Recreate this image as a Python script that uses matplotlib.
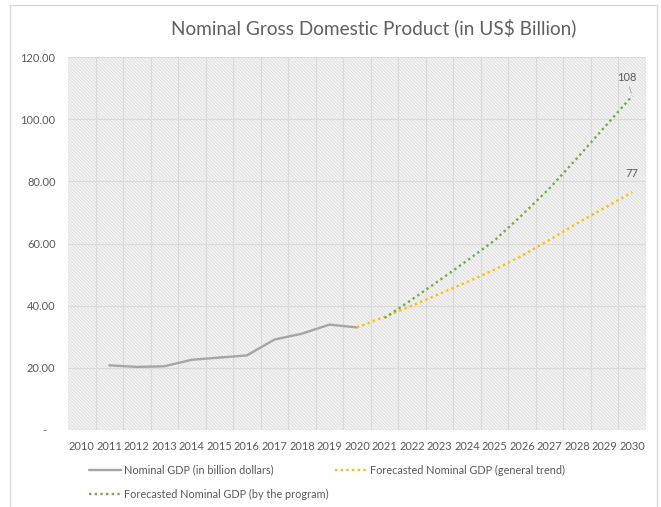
import numpy as np
import matplotlib
matplotlib.use('Agg')
import matplotlib.pyplot as plt
from matplotlib.patches import Rectangle

# data
years = [str(y) for y in range(2010, 2031)]
gdp_years = [2011, 2012, 2013, 2014, 2015, 2016, 2017, 2018, 2019, 2020]
gdp_values = [20.8, 20.3, 20.5, 22.6, 23.3, 24.0, 29.1, 31.0, 33.9, 33.0]
trend_years = [2020, 2021, 2022, 2023, 2024, 2025, 2026, 2027, 2028, 2029, 2030]
trend_values = [33.0, 36.4, 40.0, 43.8, 47.6, 51.6, 56.1, 61.2, 66.5, 71.5, 76.5]
prog_years = [2021, 2022, 2023, 2024, 2025, 2026, 2027, 2028, 2029, 2030]
prog_values = [36.0, 42.0, 48.2, 54.5, 61.0, 69.2, 77.8, 87.5, 97.5, 107.5]
y_ticks = [0, 20, 40, 60, 80, 100, 120]
y_labels = ['-   ', '20.00', '40.00', '60.00', '80.00', '100.00', '120.00']

plt.rcParams['font.family'] = ['Lato', 'DejaVu Sans']
plt.rcParams['hatch.linewidth'] = 0.7
plt.rcParams['hatch.color'] = '#e0e0e0'
txt = '#595959'

fig = plt.figure(figsize=(6.61, 5.07), dpi=100)
ax = fig.add_axes([68/661, 1-430/507, 578/661, 373/507])

def pos(ys):
    return [years.index(str(y)) for y in ys]

# plot area background with fine diagonal hatching
ax.add_patch(Rectangle((0, 0), 1, 1, transform=ax.transAxes, facecolor='#f5f5f5',
                       edgecolor='#e0e0e0', hatch='\\' * 10, lw=0, zorder=0))

ax.plot(pos(gdp_years), gdp_values, color='#a5a5a5', lw=1.7, solid_capstyle='round',
        label='Nominal GDP (in billion dollars)', zorder=3)
ax.plot(pos(trend_years), trend_values, color='#ffc000', lw=1.7, linestyle=(0, (1, 1.4)),
        label='Forecasted Nominal GDP (general trend)', zorder=3)
ax.plot(pos(prog_years), prog_values, color='#70ad47', lw=1.7, linestyle=(0, (1, 1.4)),
        label='Forecasted Nominal GDP (by the program)', zorder=4)

# data labels at the end points
ax.annotate('%d' % round(prog_values[-1] + 0.5), (pos(prog_years)[-1], prog_values[-1]),
            xytext=(-4.3, 9.5), textcoords='offset points', ha='center', va='bottom',
            fontsize=8, color=txt,
            arrowprops=dict(arrowstyle='-', color='#a5a5a5', lw=0.6, shrinkA=1, shrinkB=2))
ax.annotate('%d' % round(trend_values[-1] + 0.5), (pos(trend_years)[-1], trend_values[-1]),
            xytext=(0, 9.5), textcoords='offset points', ha='center', va='bottom',
            fontsize=8, color=txt)

ax.set_xlim(-0.5, len(years) - 0.5)
ax.set_ylim(0, 120)
ax.set_xticks(range(len(years)))
ax.set_xticklabels(years)
ax.set_xticks(np.arange(0.5, len(years) - 1, 1), minor=True)
ax.set_yticks(y_ticks)
ax.set_yticklabels(y_labels)
ax.grid(axis='y', which='major', color='#dadada', lw=0.8, zorder=1)
ax.grid(axis='x', which='minor', color='#dadada', lw=0.8, zorder=1)
ax.set_axisbelow(True)
ax.tick_params(axis='both', which='both', length=0, colors=txt, labelsize=8)
ax.tick_params(axis='y', pad=9)
ax.tick_params(axis='x', pad=8)
for s in ax.spines.values():
    s.set_visible(False)

fig.text(374/661, 1-28/507, 'Nominal Gross Domestic Product (in US$ Billion)',
         ha='center', va='center', fontsize=13.7, color='#606060')

# legend (first row two entries, second row one entry)
h = ax.get_legend_handles_labels()
leg_kw = dict(frameon=False, fontsize=7.8, labelcolor=txt, handlelength=2.95,
              handletextpad=0.3, borderaxespad=0, borderpad=0)
fig.legend([h[0][0], h[0][1]], [h[1][0], h[1][1]], ncol=2, columnspacing=5.6,
           loc='center left', bbox_to_anchor=(89/661, 1-470/507), **leg_kw)
fig.legend([h[0][2]], [h[1][2]], loc='center left',
           bbox_to_anchor=(89/661, 1-494/507), **leg_kw)

# chart area border
fig.patches.append(Rectangle((10/661, -0.02), 647/661, 1.02-5/507, transform=fig.transFigure,
                             fill=False, edgecolor='#d9d9d9', lw=1.0))

fig.savefig('out.png', dpi=100)
